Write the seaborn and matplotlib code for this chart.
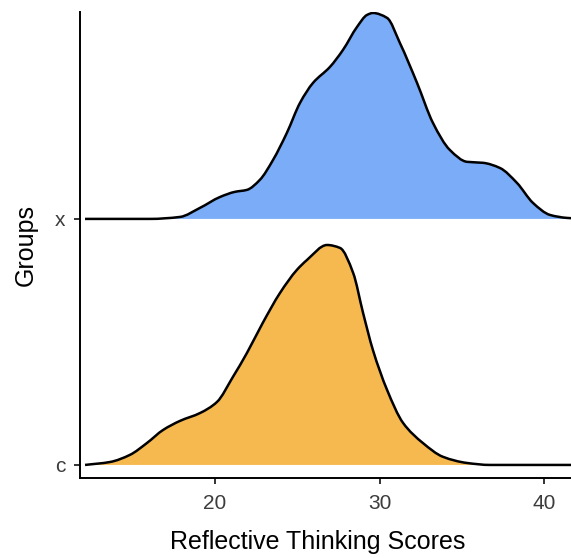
import numpy as np
import pandas as pd
import matplotlib
matplotlib.use("Agg")
import matplotlib.pyplot as plt
from matplotlib.path import Path
from matplotlib.patches import PathPatch
import seaborn as sns

# Ridge outlines: score grid and ridge height (in row units) for each group
groups = ["c", "x"]

x_scores = [12.10, 16.04, 17.87, 19.09, 20.30, 21.21, 21.94, 22.73, 23.53, 24.37,
            25.17, 25.96, 26.99, 27.78, 28.63, 29.24, 29.60, 30.46, 31.24, 32.28,
            33.25, 34.28, 35.32, 36.29, 37.32, 38.36, 39.33, 40.37, 41.40, 42.50]
x_height = [0.000, 0.000, 0.008, 0.045, 0.089, 0.110, 0.118, 0.159, 0.240, 0.350,
            0.472, 0.553, 0.618, 0.687, 0.780, 0.829, 0.837, 0.817, 0.715, 0.553,
            0.390, 0.280, 0.232, 0.228, 0.207, 0.146, 0.065, 0.016, 0.004, 0.000]

c_scores = [12.10, 13.62, 14.83, 15.86, 16.84, 17.87, 19.09, 20.12, 21.09, 21.94,
            22.90, 23.95, 24.98, 25.59, 26.81, 27.60, 28.40, 29.00, 29.60, 30.46,
            31.43, 32.64, 33.86, 35.32, 36.72, 42.50]
c_height = [0.000, 0.012, 0.041, 0.089, 0.142, 0.179, 0.211, 0.256, 0.358, 0.455,
            0.577, 0.699, 0.793, 0.833, 0.894, 0.882, 0.780, 0.618, 0.467, 0.305,
            0.171, 0.089, 0.033, 0.008, 0.000, 0.000]

fill_colors = {"c": "#F5B94F", "x": "#7AACF7"}

x_ticks = [20, 30, 40]

df = pd.concat([
    pd.DataFrame({"group": "x", "score": x_scores, "height": x_height}),
    pd.DataFrame({"group": "c", "score": c_scores, "height": c_height}),
], ignore_index=True)
row_index = {g: i + 1 for i, g in enumerate(groups)}
df["base"] = df["group"].map(row_index)
df["top"] = df["base"] + df["height"]


def pchip_slopes(x, y):
    """Shape-preserving tangents so the outline never overshoots."""
    h = np.diff(x)
    d = np.diff(y) / h
    m = np.zeros_like(y)
    for i in range(1, len(y) - 1):
        if d[i - 1] * d[i] > 0:
            w1 = 2 * h[i] + h[i - 1]
            w2 = h[i] + 2 * h[i - 1]
            m[i] = (w1 + w2) / (w1 / d[i - 1] + w2 / d[i])
    m[0] = d[0]
    m[-1] = d[-1]
    return m


def ridge_path(x, y, base=None):
    """Cubic Bezier path through the outline points; closed to base if given."""
    x = np.asarray(x, float)
    y = np.asarray(y, float)
    m = pchip_slopes(x, y)
    verts = [(x[0], y[0])]
    codes = [Path.MOVETO]
    for i in range(len(x) - 1):
        h = x[i + 1] - x[i]
        verts += [(x[i] + h / 3, y[i] + m[i] * h / 3),
                  (x[i + 1] - h / 3, y[i + 1] - m[i + 1] * h / 3),
                  (x[i + 1], y[i + 1])]
        codes += [Path.CURVE4] * 3
    if base is not None:
        verts += [(x[-1], base), (x[0], base), (x[0], y[0])]
        codes += [Path.LINETO, Path.LINETO, Path.CLOSEPOLY]
    return Path(verts, codes)


sns.set_theme(style="ticks")
plt.rcParams["font.family"] = ["Liberation Sans", "DejaVu Sans"]

fig = plt.figure(figsize=(5.71, 5.58), dpi=100)
ax = fig.add_axes([0.140, 0.1434, 0.860, 0.8351])

# Top ridge first so lower ridges sit in front
for g in reversed(groups):
    sub = df[df["group"] == g]
    base = row_index[g]
    ax.add_patch(PathPatch(ridge_path(sub["score"], sub["top"], base),
                           facecolor=fill_colors[g], edgecolor="none", zorder=2))
    ax.add_patch(PathPatch(ridge_path(sub["score"], sub["top"]),
                           facecolor="none", edgecolor="black", linewidth=1.8,
                           capstyle="butt", joinstyle="round", zorder=3))

ax.set_xlim(11.79, 41.64)
ax.set_ylim(0.947, 2.841)
ax.set_xticks(x_ticks)
ax.set_yticks([row_index[g] for g in groups])
ax.set_yticklabels(groups)

ax.set_xlabel("Reflective Thinking Scores", fontsize=18, color="black")
ax.xaxis.set_label_coords(0.485, -0.112)
ax.set_ylabel("Groups", fontsize=18, color="black", labelpad=12)

for side in ["top", "right"]:
    ax.spines[side].set_visible(False)
for side in ["left", "bottom"]:
    ax.spines[side].set_linewidth(1.4)
    ax.spines[side].set_color("black")
ax.tick_params(axis="both", length=4.5, width=1.4, color="#333333",
               labelsize=15, labelcolor="#3C3C3C", pad=6)
ax.tick_params(axis="x", pad=7)
ax.grid(False)

fig.savefig("out.png", dpi=100)
